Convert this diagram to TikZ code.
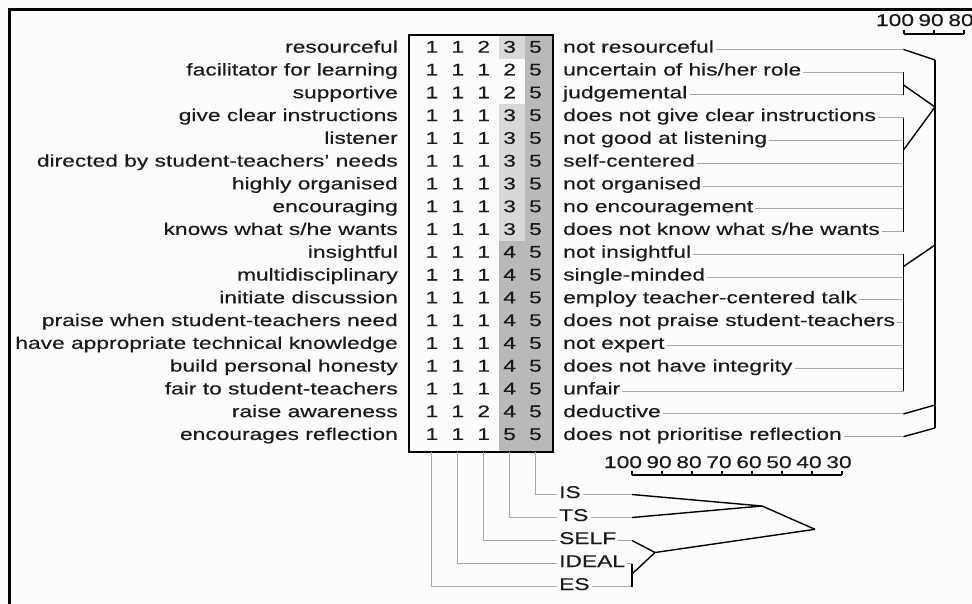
\documentclass[tikz,border=0pt]{standalone}
\usepackage{fontspec}
\setmainfont{Liberation Sans}[FakeStretch=1.34,FakeBold=0.3]
\usetikzlibrary{calc}
\definecolor{paper}{HTML}{FCFCFC}
\definecolor{inkc}{HTML}{1A1A1A}
\definecolor{linkc}{HTML}{A8A8A8}
\definecolor{midshade}{HTML}{D8D8D8}
\definecolor{darkshade}{HTML}{B9B9B9}
\begin{document}
\begin{tikzpicture}[x=1pt,y=-1pt,
  every node/.style={font=\fontsize{17}{19}\selectfont, text=inkc, inner sep=2pt},
  link/.style={draw=linkc, line width=1pt},
  tree/.style={draw=black, line width=1.4pt},
  tick/.style={draw=black, line width=1.3pt}]
\useasboundingbox (0,0) rectangle (972,603);
\fill[paper] (0,0) rectangle (972,603);
% outer frame (open to the right and bottom)
\draw[line width=2.6pt] (9.5,640) -- (9.5,9.5) -- (1000,9.5);

% ---- grid shading ----
\fill[midshade] (499,34.5) rectangle (525,58.6);
\fill[midshade] (499,104.15) rectangle (525,240.83);
\fill[darkshade] (499,240.83) rectangle (525,452);
\fill[darkshade] (525,34.5) rectangle (552.5,452);
\draw[line width=2pt] (409.3,34.5) rectangle (552.5,452);
\coordinate (gridbot) at (0,452);

% ---- construct poles (left) ----
\foreach \t [count=\i] in {resourceful, facilitator for learning, supportive,
  give clear instructions, listener, directed by student-teachers' needs,
  highly organised, encouraging, knows what s/he wants, insightful,
  multidisciplinary, initiate discussion, praise when student-teachers need,
  have appropriate technical knowledge, build personal honesty,
  fair to student-teachers, raise awareness, encourages reflection}
  \node[anchor=base east] (l\i) at (400,{52.7+22.78*(\i-1)}) {\t};

% ---- ratings ----
\foreach \r [count=\i] in {{1,1,2,3,5},{1,1,1,2,5},{1,1,1,2,5},{1,1,1,3,5},
  {1,1,1,3,5},{1,1,1,3,5},{1,1,1,3,5},{1,1,1,3,5},{1,1,1,3,5},{1,1,1,4,5},
  {1,1,1,4,5},{1,1,1,4,5},{1,1,1,4,5},{1,1,1,4,5},{1,1,1,4,5},{1,1,1,4,5},
  {1,1,2,4,5},{1,1,1,5,5}}
  \foreach \v [count=\j] in \r
    \node[anchor=base] (c\i-\j) at ({406+25.9*\j},{52.7+22.78*(\i-1)}) {\v};

% ---- construct poles (right) with leader lines ----
\foreach \t [count=\i] in {not resourceful, uncertain of his/her role, judgemental,
  does not give clear instructions, not good at listening, self-centered,
  not organised, no encouragement, does not know what s/he wants, not insightful,
  single-minded, employ teacher-centered talk, does not praise student-teachers,
  not expert, does not have integrity, unfair, deductive,
  does not prioritise reflection}
{
  \node[anchor=base west] (r\i) at (561,{52.7+22.78*(\i-1)}) {\t};
  \coordinate (rb\i) at (903.5,{49.4+22.78*(\i-1)});
  \draw[link] (r\i.east |- rb\i) -- (rb\i);
}

% ---- construct dendrogram ----
\coordinate (k1) at (935,60);
\coordinate (k2) at (935,107);
\coordinate (k3) at (935,245);
\coordinate (k4) at (935,405);
\coordinate (k5) at (935,428);
\coordinate (a23) at (903.5,85);
\coordinate (a49) at (903.5,150);
\coordinate (a1016) at (903.5,266.5);
\draw[tree] (rb2) -- (rb3);
\draw[tree] (rb4) -- (rb9);
\draw[tree] (rb10) -- (rb16);
\draw[tree] (rb1) -- (k1);
\draw[tree] (a23) -- (k2);
\draw[tree] (a49) -- (k2);
\draw[tree] (a1016) -- (k3);
\draw[tree] (rb17) -- (k4);
\draw[tree] (rb18) -- (k5);
\draw[tree] (k1) -- (k5);

% ---- scale for constructs ----
\coordinate (ts0) at (904,34);
\coordinate (ts2) at (964,34);
\draw[tick] (ts0) -- (ts2);
\foreach \k in {0,1,2}
  \draw[tick] ({904+30*\k},34) -- ({904+30*\k},30);
\node[anchor=base] (tsl0) at (895,26) {100};
\node[anchor=base] (tsl1) at (931,26) {90};
\node[anchor=base] (tsl2) at (961,26) {80};

% ---- scale for elements ----
\coordinate (bs0) at (632,475);
\coordinate (bs7) at (842,475);
\draw[tick] (bs0) -- (bs7);
\foreach \k in {0,...,7}
  \draw[tick] ({632+30*\k},475) -- ({632+30*\k},471);
\node[anchor=base] (bsl0) at (623,468) {100};
\foreach \v [count=\k] in {90,80,70,60,50,40,30}
  \node[anchor=base] (bsl\k) at ({629+30*\k},468) {\v};

% ---- elements ----
\foreach \t [count=\k] in {IS,TS,SELF,IDEAL,ES}
{
  \node[anchor=base west] (e\k) at (557,{498+23*(\k-1)}) {\t};
  \coordinate (eL\k) at (557,{494.5+23*(\k-1)});
  \coordinate (m\k) at (632,{494.5+23*(\k-1)});
  \draw[link] (e\k.east |- m\k) -- (m\k);
}
\draw[link] (c18-5 |- gridbot) |- (eL1);
\draw[link] (c18-4 |- gridbot) |- (eL2);
\draw[link] (c18-3 |- gridbot) |- (eL3);
\draw[link] (c18-2 |- gridbot) |- (eL4);
\draw[link] (c18-1 |- gridbot) |- (eL5);

% ---- element dendrogram ----
\coordinate (j1) at (762,506);
\coordinate (j2) at (655,552.5);
\coordinate (j3) at (815,529.3);
\coordinate (a45) at (632,574);
\draw[tree] (m1) -- (j1) -- (m2);
\draw[tree] (j1) -- (j3);
\draw[tree] (m3) -- (j2);
\draw[tree] (m4) -- (m5);
\draw[tree] (a45) -- (j2);
\draw[tree] (j2) -- (j3);
\end{tikzpicture}
\end{document}
